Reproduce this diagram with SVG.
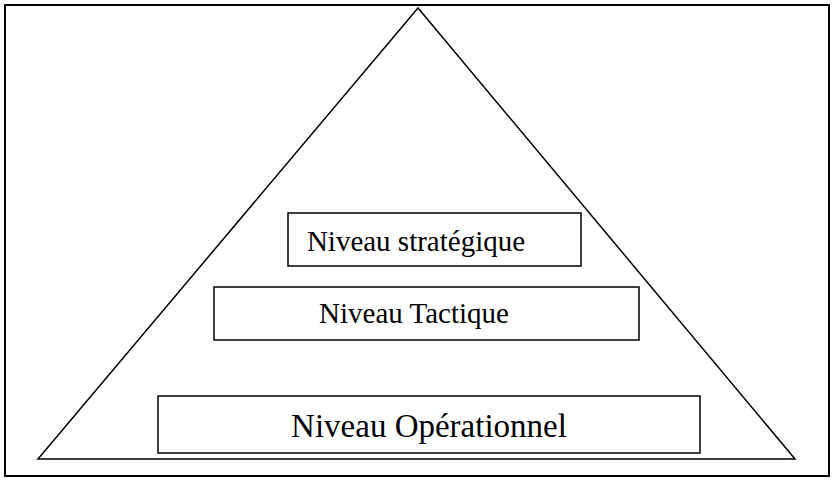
<svg xmlns="http://www.w3.org/2000/svg" width="835" height="480" viewBox="0 0 835 480">
<style>
.frame{fill:none;stroke:#000;stroke-width:2}
.tri{fill:none;stroke:#000;stroke-width:1.5}
.box{fill:#fff;stroke:#000;stroke-width:1.5}
.lbl{font-family:"Liberation Serif","Times New Roman",serif;fill:#000;text-anchor:middle}
</style>
<rect width="835" height="480" fill="#fff"/>
<rect class="frame" x="5" y="5" width="824" height="471"/>
<g id="pyramid">
<polygon class="tri" points="418,8 38,459 795,459"/>
</g>
<g id="strategique">
<rect class="box" x="288" y="213" width="293" height="53"/>
<text class="lbl" x="416" y="251" font-size="29">Niveau stratégique</text>
</g>
<g id="tactique">
<rect class="box" x="214" y="287" width="425" height="53"/>
<text class="lbl" x="414" y="323" font-size="29">Niveau Tactique</text>
</g>
<g id="operationnel">
<rect class="box" x="158" y="396" width="542" height="57"/>
<text class="lbl" x="429" y="437" font-size="33">Niveau Opérationnel</text>
</g>
<g id="connectors"></g>
</svg>
